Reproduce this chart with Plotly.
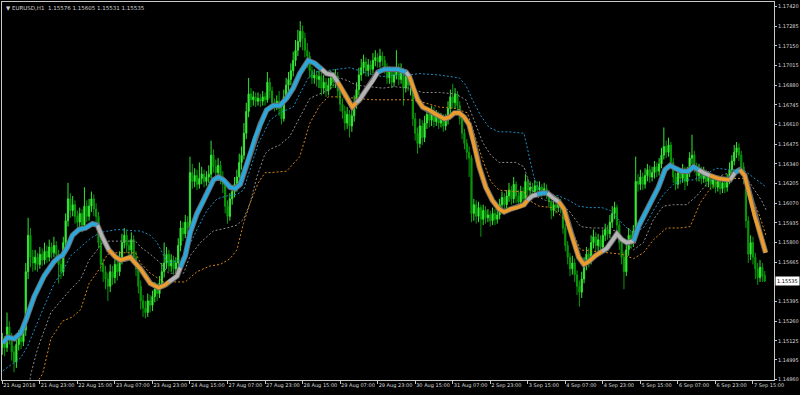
import plotly.graph_objects as go

symbol = "EURUSD"
timeframe = "H1"

open_ = [
1.1508,1.1512,1.1508,1.1522,1.1515,1.1505,1.1498,1.1510,1.1515,1.1512,
1.1520,1.1560,1.1585,1.1570,1.1566,1.1570,1.1565,1.1572,1.1568,1.1574,
1.1570,1.1577,1.1573,1.1578,1.1572,1.1565,1.1560,1.1580,1.1595,1.1610,
1.1602,1.1606,1.1598,1.1594,1.1600,1.1592,1.1605,1.1598,1.1605,1.1610,
1.1603,1.1598,1.1580,1.1565,1.1560,1.1555,1.1550,1.1560,1.1556,1.1565,
1.1560,1.1568,1.1580,1.1585,1.1578,1.1575,1.1582,1.1570,1.1562,1.1550,
1.1540,1.1535,1.1532,1.1540,1.1537,1.1543,1.1548,1.1545,1.1552,1.1560,
1.1566,1.1572,1.1564,1.1568,1.1562,1.1566,1.1578,1.1590,1.1586,1.1594,
1.1590,1.1628,1.1622,1.1626,1.1620,1.1624,1.1627,1.1622,1.1625,1.1627,
1.1640,1.1632,1.1628,1.1633,1.1625,1.1620,1.1605,1.1598,1.1610,1.1615,
1.1620,1.1625,1.1635,1.1640,1.1655,1.1670,1.1682,1.1678,1.1680,1.1677,
1.1679,1.1677,1.1680,1.1678,1.1690,1.1684,1.1676,1.1674,1.1677,1.1672,
1.1665,1.1680,1.1688,1.1692,1.1698,1.1705,1.1712,1.1718,1.1725,1.1720,
1.1712,1.1708,1.1698,1.1693,1.1695,1.1692,1.1694,1.1686,1.1690,1.1684,
1.1688,1.1693,1.1690,1.1694,1.1684,1.1675,1.1670,1.1662,1.1668,1.1660,
1.1667,1.1676,1.1685,1.1695,1.1700,1.1704,1.1698,1.1702,1.1699,1.1705,
1.1707,1.1704,1.1708,1.1705,1.1700,1.1693,1.1697,1.1690,1.1695,1.1700,
1.1692,1.1698,1.1686,1.1694,1.1688,1.1690,1.1665,1.1655,1.1648,1.1660,
1.1652,1.1662,1.1668,1.1664,1.1670,1.1663,1.1667,1.1662,1.1665,1.1660,
1.1664,1.1672,1.1680,1.1676,1.1682,1.1674,1.1665,1.1655,1.1648,1.1642,
1.1638,1.1600,1.1606,1.1598,1.1604,1.1596,1.1602,1.1597,1.1599,1.1595,
1.1600,1.1596,1.1599,1.1606,1.1611,1.1606,1.1612,1.1616,1.1610,1.1620,
1.1612,1.1608,1.1615,1.1610,1.1622,1.1616,1.1618,1.1615,1.1619,1.1616,
1.1618,1.1615,1.1617,1.1614,1.1608,1.1602,1.1606,1.1604,1.1607,1.1604,
1.1590,1.1578,1.1570,1.1562,1.1566,1.1558,1.1550,1.1546,1.1555,1.1565,
1.1572,1.1568,1.1580,1.1584,1.1578,1.1582,1.1577,1.1585,1.1589,1.1586,
1.1594,1.1600,1.1604,1.1592,1.1580,1.1570,1.1560,1.1575,1.1585,1.1580,
1.1588,1.1622,1.1620,1.1625,1.1620,1.1626,1.1630,1.1625,1.1628,1.1632,
1.1629,1.1634,1.1640,1.1646,1.1642,1.1647,1.1635,1.1625,1.1620,1.1628,
1.1624,1.1630,1.1622,1.1628,1.1638,1.1640,1.1632,1.1626,1.1630,1.1624,
1.1628,1.1622,1.1625,1.1620,1.1623,1.1618,1.1622,1.1617,1.1621,1.1618,
1.1623,1.1630,1.1636,1.1642,1.1645,1.1640,1.1632,1.1626,1.1595,1.1572,
1.1580,1.1570,1.1562,1.1556,1.1563,1.15576]

high = [
1.1518,1.1516,1.1532,1.1526,1.1518,1.1509,1.1514,1.1520,1.1519,1.1524,
1.1566,1.1597,1.1590,1.1575,1.1575,1.1573,1.1577,1.1576,1.1580,1.1578,
1.1582,1.1580,1.1584,1.1581,1.1575,1.1568,1.1584,1.1600,1.1621,1.1614,
1.1612,1.1609,1.1602,1.1604,1.1603,1.1618,1.1609,1.1610,1.1615,1.1613,
1.1607,1.1601,1.1584,1.1569,1.1564,1.1559,1.1565,1.1564,1.1570,1.1568,
1.1574,1.1586,1.1590,1.1588,1.1582,1.1587,1.1585,1.1574,1.1565,1.1554,
1.1544,1.1540,1.1545,1.1544,1.1547,1.1553,1.1552,1.1557,1.1566,1.1580,
1.1577,1.1575,1.1572,1.1571,1.1570,1.1583,1.1595,1.1594,1.1599,1.1598,
1.1639,1.1634,1.1631,1.1630,1.1635,1.1632,1.1630,1.1629,1.1633,1.1650,
1.1644,1.1637,1.1638,1.1636,1.1629,1.1623,1.1609,1.1614,1.1619,1.1625,
1.1630,1.1641,1.1646,1.1662,1.1676,1.1693,1.1686,1.1684,1.1683,1.1683,
1.1682,1.1684,1.1683,1.1697,1.1693,1.1687,1.1679,1.1681,1.1684,1.1675,
1.1685,1.1693,1.1697,1.1703,1.1711,1.1719,1.1726,1.1732,1.1729,1.1724,
1.1717,1.1711,1.1701,1.1699,1.1698,1.1698,1.1697,1.1695,1.1693,1.1693,
1.1698,1.1697,1.1699,1.1697,1.1687,1.1679,1.1674,1.1673,1.1671,1.1672,
1.1681,1.1690,1.1700,1.1706,1.1709,1.1707,1.1706,1.1705,1.1710,1.1712,
1.1710,1.1713,1.1711,1.1708,1.1703,1.1701,1.1700,1.1700,1.1712,1.1703,
1.1703,1.1700,1.1699,1.1697,1.1695,1.1692,1.1669,1.1659,1.1665,1.1664,
1.1667,1.1673,1.1671,1.1674,1.1673,1.1671,1.1670,1.1669,1.1668,1.1668,
1.1677,1.1685,1.1689,1.1686,1.1684,1.1677,1.1668,1.1658,1.1651,1.1646,
1.1640,1.1610,1.1609,1.1608,1.1606,1.1606,1.1605,1.1603,1.1602,1.1604,
1.1603,1.1603,1.1610,1.1615,1.1614,1.1616,1.1621,1.1619,1.1625,1.1622,
1.1616,1.1619,1.1618,1.1627,1.1625,1.1622,1.1621,1.1623,1.1622,1.1622,
1.1620,1.1621,1.1620,1.1616,1.1611,1.1610,1.1609,1.1611,1.1610,1.1606,
1.1593,1.1581,1.1573,1.1571,1.1569,1.1561,1.1554,1.1560,1.1570,1.1577,
1.1576,1.1585,1.1589,1.1587,1.1586,1.1585,1.1589,1.1593,1.1592,1.1599,
1.1605,1.1608,1.1606,1.1595,1.1583,1.1574,1.1580,1.1590,1.1588,1.1592,
1.1639,1.1627,1.1630,1.1628,1.1631,1.1634,1.1633,1.1632,1.1636,1.1635,
1.1638,1.1645,1.1659,1.1650,1.1652,1.1649,1.1638,1.1628,1.1632,1.1631,
1.1634,1.1632,1.1632,1.1642,1.1654,1.1643,1.1635,1.1634,1.1632,1.1632,
1.1630,1.1629,1.1627,1.1627,1.1625,1.1626,1.1624,1.1625,1.1624,1.1627,
1.1635,1.1640,1.1647,1.1649,1.1648,1.1643,1.1635,1.1628,1.1598,1.1585,
1.1584,1.1573,1.1566,1.1568,1.1566,1.15605]

low = [
1.1503,1.1502,1.1505,1.1510,1.1499,1.1491,1.1494,1.1506,1.1507,1.1509,
1.1516,1.1555,1.1563,1.1560,1.1561,1.1560,1.1562,1.1564,1.1565,1.1566,
1.1567,1.1569,1.1570,1.1566,1.1552,1.1555,1.1557,1.1576,1.1591,1.1597,
1.1598,1.1593,1.1589,1.1590,1.1587,1.1589,1.1594,1.1595,1.1601,1.1598,
1.1592,1.1576,1.1560,1.1553,1.1548,1.1540,1.1546,1.1551,1.1552,1.1554,
1.1557,1.1565,1.1576,1.1573,1.1569,1.1571,1.1566,1.1557,1.1545,1.1534,
1.1529,1.1528,1.1529,1.1532,1.1533,1.1539,1.1540,1.1542,1.1549,1.1556,
1.1562,1.1560,1.1560,1.1558,1.1558,1.1563,1.1574,1.1581,1.1583,1.1585,
1.1587,1.1617,1.1618,1.1616,1.1617,1.1620,1.1618,1.1619,1.1621,1.1624,
1.1628,1.1623,1.1624,1.1620,1.1614,1.1600,1.1593,1.1595,1.1606,1.1611,
1.1615,1.1621,1.1630,1.1637,1.1651,1.1666,1.1673,1.1674,1.1673,1.1674,
1.1673,1.1674,1.1674,1.1676,1.1679,1.1672,1.1670,1.1671,1.1667,1.1661,
1.1663,1.1677,1.1684,1.1688,1.1694,1.1701,1.1708,1.1714,1.1712,1.1707,
1.1700,1.1693,1.1689,1.1689,1.1687,1.1686,1.1681,1.1682,1.1680,1.1681,
1.1685,1.1686,1.1686,1.1679,1.1670,1.1665,1.1657,1.1658,1.1652,1.1656,
1.1663,1.1672,1.1681,1.1691,1.1696,1.1694,1.1694,1.1695,1.1696,1.1701,
1.1700,1.1700,1.1701,1.1696,1.1689,1.1689,1.1686,1.1687,1.1692,1.1688,
1.1689,1.1674,1.1683,1.1684,1.1681,1.1660,1.1650,1.1641,1.1645,1.1647,
1.1649,1.1658,1.1659,1.1660,1.1659,1.1660,1.1658,1.1659,1.1656,1.1657,
1.1661,1.1669,1.1672,1.1672,1.1670,1.1661,1.1651,1.1644,1.1637,1.1625,
1.1594,1.1595,1.1593,1.1594,1.1584,1.1592,1.1593,1.1594,1.1591,1.1592,
1.1592,1.1593,1.1596,1.1603,1.1602,1.1603,1.1608,1.1606,1.1607,1.1607,
1.1603,1.1604,1.1605,1.1607,1.1612,1.1612,1.1611,1.1612,1.1612,1.1612,
1.1611,1.1612,1.1610,1.1604,1.1596,1.1598,1.1600,1.1601,1.1600,1.1586,
1.1574,1.1565,1.1557,1.1558,1.1553,1.1544,1.1536,1.1542,1.1552,1.1561,
1.1563,1.1565,1.1576,1.1574,1.1574,1.1573,1.1574,1.1581,1.1582,1.1583,
1.1590,1.1596,1.1588,1.1575,1.1565,1.1548,1.1557,1.1571,1.1576,1.1577,
1.1584,1.1615,1.1616,1.1616,1.1617,1.1622,1.1621,1.1622,1.1624,1.1625,
1.1626,1.1631,1.1637,1.1638,1.1639,1.1631,1.1621,1.1616,1.1617,1.1620,
1.1621,1.1616,1.1619,1.1625,1.1634,1.1628,1.1622,1.1622,1.1620,1.1621,
1.1618,1.1618,1.1616,1.1617,1.1614,1.1615,1.1613,1.1614,1.1614,1.1615,
1.1620,1.1627,1.1633,1.1638,1.1636,1.1628,1.1620,1.1590,1.1566,1.1568,
1.1565,1.1555,1.1551,1.1553,1.1553,1.15531]

close = [
1.1512,1.1508,1.1522,1.1515,1.1505,1.1498,1.1510,1.1515,1.1512,1.1520,
1.1560,1.1585,1.1570,1.1566,1.1570,1.1565,1.1572,1.1568,1.1574,1.1570,
1.1577,1.1573,1.1578,1.1572,1.1565,1.1560,1.1580,1.1595,1.1610,1.1602,
1.1606,1.1598,1.1594,1.1600,1.1592,1.1605,1.1598,1.1605,1.1610,1.1603,
1.1598,1.1580,1.1565,1.1560,1.1555,1.1550,1.1560,1.1556,1.1565,1.1560,
1.1568,1.1580,1.1585,1.1578,1.1575,1.1582,1.1570,1.1562,1.1550,1.1540,
1.1535,1.1532,1.1540,1.1537,1.1543,1.1548,1.1545,1.1552,1.1560,1.1566,
1.1572,1.1564,1.1568,1.1562,1.1566,1.1578,1.1590,1.1586,1.1594,1.1590,
1.1628,1.1622,1.1626,1.1620,1.1624,1.1627,1.1622,1.1625,1.1627,1.1640,
1.1632,1.1628,1.1633,1.1625,1.1620,1.1605,1.1598,1.1610,1.1615,1.1620,
1.1625,1.1635,1.1640,1.1655,1.1670,1.1682,1.1678,1.1680,1.1677,1.1679,
1.1677,1.1680,1.1678,1.1690,1.1684,1.1676,1.1674,1.1677,1.1672,1.1665,
1.1680,1.1688,1.1692,1.1698,1.1705,1.1712,1.1718,1.1725,1.1720,1.1712,
1.1708,1.1698,1.1693,1.1695,1.1692,1.1694,1.1686,1.1690,1.1684,1.1688,
1.1693,1.1690,1.1694,1.1684,1.1675,1.1670,1.1662,1.1668,1.1660,1.1667,
1.1676,1.1685,1.1695,1.1700,1.1704,1.1698,1.1702,1.1699,1.1705,1.1707,
1.1704,1.1708,1.1705,1.1700,1.1693,1.1697,1.1690,1.1695,1.1700,1.1692,
1.1698,1.1686,1.1694,1.1688,1.1690,1.1665,1.1655,1.1648,1.1660,1.1652,
1.1662,1.1668,1.1664,1.1670,1.1663,1.1667,1.1662,1.1665,1.1660,1.1664,
1.1672,1.1680,1.1676,1.1682,1.1674,1.1665,1.1655,1.1648,1.1642,1.1638,
1.1600,1.1606,1.1598,1.1604,1.1596,1.1602,1.1597,1.1599,1.1595,1.1600,
1.1596,1.1599,1.1606,1.1611,1.1606,1.1612,1.1616,1.1610,1.1620,1.1612,
1.1608,1.1615,1.1610,1.1622,1.1616,1.1618,1.1615,1.1619,1.1616,1.1618,
1.1615,1.1617,1.1614,1.1608,1.1602,1.1606,1.1604,1.1607,1.1604,1.1590,
1.1578,1.1570,1.1562,1.1566,1.1558,1.1550,1.1546,1.1555,1.1565,1.1572,
1.1568,1.1580,1.1584,1.1578,1.1582,1.1577,1.1585,1.1589,1.1586,1.1594,
1.1600,1.1604,1.1592,1.1580,1.1570,1.1560,1.1575,1.1585,1.1580,1.1588,
1.1622,1.1620,1.1625,1.1620,1.1626,1.1630,1.1625,1.1628,1.1632,1.1629,
1.1634,1.1640,1.1646,1.1642,1.1647,1.1635,1.1625,1.1620,1.1628,1.1624,
1.1630,1.1622,1.1628,1.1638,1.1640,1.1632,1.1626,1.1630,1.1624,1.1628,
1.1622,1.1625,1.1620,1.1623,1.1618,1.1622,1.1617,1.1621,1.1618,1.1623,
1.1630,1.1636,1.1642,1.1645,1.1640,1.1632,1.1626,1.1595,1.1572,1.1580,
1.1570,1.1562,1.1556,1.1563,1.1557,1.15535]

# Thick coloured moving average (bar position, value, trend state u/d/n)
ma_idx = [
0.2,2.3,5.1,7.9,10.1,13.6,17.8,22.1,24.2,25.6,
27.8,29.9,32.7,35.5,38.4,40.5,42.6,45.4,48.3,50.4,
53.2,54.6,56.1,58.9,63.1,66.7,69.5,70.9,74.5,75.9,
78.0,80.1,83.0,85.8,87.9,90.0,92.1,94.3,97.1,99.2,
101.4,103.5,105.6,107.7,109.9,112.7,115.5,118.3,121.2,124.0,
126.8,130.4,133.2,136.1,138.2,141.0,143.1,144.5,146.7,149.2,
150.9,152.3,155.2,158.0,160.1,162.9,165.8,168.6,172.1,173.5,
175.2,177.1,179.2,182.0,184.9,188.4,190.5,192.7,194.8,196.9,
199.0,201.1,203.3,206.1,208.9,211.8,213.9,216.7,219.5,222.4,
223.8,225.9,228.0,230.1,232.3,234.4,237.2,239.4,241.5,243.6,
245.7,247.9,250.0,252.8,255.6,257.7,259.9,262.0,264.1,266.2,
269.1,271.2,274.0,276.2,277.6,279.7,282.5,284.7,286.8,289.6,
292.4,294.6,296.7,298.8,301.7,305.2,310.2,312.3,314.4,316.5,
318.6,320.7,322.9,325.4]
ma_val = [
1.1511,1.1515,1.1514,1.1518,1.1527,1.1543,1.1557,1.1567,1.1570,1.1571,
1.1577,1.1585,1.1589,1.1590,1.1593,1.1592,1.1584,1.1575,1.1570,1.1568,
1.1569,1.1570,1.1567,1.1562,1.1552,1.1549,1.1551,1.1553,1.1557,1.1563,
1.1571,1.1587,1.1600,1.1609,1.1616,1.1623,1.1625,1.1623,1.1618,1.1617,
1.1620,1.1630,1.1641,1.1652,1.1661,1.1671,1.1674,1.1674,1.1679,1.1686,
1.1696,1.1705,1.1703,1.1699,1.1696,1.1695,1.1690,1.1686,1.1680,1.1673,
1.1676,1.1678,1.1685,1.1691,1.1697,1.1699,1.1699,1.1699,1.1697,1.1694,
1.1686,1.1678,1.1673,1.1671,1.1668,1.1665,1.1666,1.1669,1.1669,1.1666,
1.1661,1.1648,1.1632,1.1618,1.1609,1.1603,1.1601,1.1603,1.1604,1.1606,
1.1609,1.1612,1.1613,1.1614,1.1614,1.1611,1.1608,1.1603,1.1591,1.1580,
1.1570,1.1565,1.1567,1.1571,1.1574,1.1576,1.1581,1.1586,1.1582,1.1580,
1.1581,1.1591,1.1600,1.1607,1.1612,1.1618,1.1630,1.1633,1.1631,1.1629,
1.1629,1.1632,1.1630,1.1628,1.1626,1.1624,1.1623,1.1628,1.1630,1.1626,
1.1612,1.1598,1.1587,1.1573]
ma_state = list(
"uuuuuuuuuu"
"uuuuunnddd"
"dddddddnnu"
"uuuuuuuuuu"
"uuuuuuuuuu"
"uuunnndddd"
"nnnnuuuund"
"dddddddddd"
"dddddddddd"
"nnuunndddd"
"ddddnnnnnn"
"uuuuuuuuuu"
"uunnddnudd"
"dddd")

# Dotted bands
blue_idx = [
0.2,5.1,7.9,10.8,13.6,17.8,22.1,25.6,29.2,33.4,
37.7,41.9,44.8,49.0,56.8,58.9,63.1,66.0,68.8,70.9,
75.9,79.4,83.0,87.2,91.5,95.7,100.0,102.8,105.6,109.1,
112.0,114.1,118.3,124.0,126.8,130.4,133.2,138.2,143.8,148.1,
152.3,158.0,162.2,167.2,173.5,177.8,186.3,194.8,197.6,200.4,
204.0,207.5,211.8,216.0,222.4,224.5,226.6,228.8,233.0,237.2,
241.5,245.7,250.0,255.6,259.2,262.7,266.3,269.1,273.3,277.6,
281.8,286.1,290.3,294.6,298.8,304.4,310.1,315.8,320.1,324.3,
325.7]
blue_val = [
1.1492,1.1498,1.1501,1.1509,1.1520,1.1536,1.1552,1.1560,1.1571,1.1577,
1.1583,1.1587,1.1588,1.1589,1.1588,1.1588,1.1585,1.1580,1.1571,1.1566,
1.1568,1.1577,1.1589,1.1602,1.1610,1.1612,1.1613,1.1616,1.1630,1.1648,
1.1657,1.1664,1.1669,1.1673,1.1682,1.1693,1.1697,1.1698,1.1699,1.1700,
1.1698,1.1695,1.1694,1.1695,1.1695,1.1696,1.1695,1.1693,1.1688,1.1678,
1.1667,1.1659,1.1656,1.1656,1.1655,1.1641,1.1625,1.1616,1.1613,1.1612,
1.1609,1.1605,1.1604,1.1604,1.1602,1.1596,1.1590,1.1587,1.1590,1.1602,
1.1613,1.1620,1.1623,1.1623,1.1626,1.1631,1.1630,1.1630,1.1625,1.1620,
1.1618]

gray_idx = [
11.8,12.2,15.0,20.7,24.9,29.2,33.4,37.0,40.5,43.3,
47.6,56.8,58.9,63.1,67.4,70.9,77.3,80.1,84.4,90.0,
95.7,100.0,102.8,105.6,108.5,112.0,114.1,118.3,122.6,126.8,
131.1,135.3,139.6,143.8,147.4,150.9,156.6,162.2,167.2,173.5,
179.2,186.3,193.2,197.6,201.1,204.7,208.2,211.8,218.9,222.4,
224.5,227.4,231.6,237.2,241.5,246.5,251.4,257.7,261.3,265.6,
269.1,273.3,277.6,281.8,286.1,291.7,296.0,300.2,304.5,310.1,
315.8,320.1,323.6,325.7]
gray_val = [
1.1486,1.1490,1.1507,1.1532,1.1540,1.1548,1.1555,1.1568,1.1575,1.1581,
1.1581,1.1581,1.1577,1.1572,1.1566,1.1559,1.1559,1.1571,1.1580,1.1588,
1.1590,1.1592,1.1596,1.1607,1.1625,1.1641,1.1644,1.1647,1.1653,1.1666,
1.1679,1.1682,1.1685,1.1693,1.1691,1.1688,1.1687,1.1686,1.1687,1.1686,
1.1683,1.1683,1.1682,1.1678,1.1664,1.1649,1.1640,1.1635,1.1635,1.1632,
1.1621,1.1612,1.1609,1.1607,1.1602,1.1591,1.1590,1.1590,1.1588,1.1580,
1.1575,1.1580,1.1596,1.1605,1.1606,1.1606,1.1612,1.1620,1.1625,1.1628,
1.1628,1.1618,1.1609,1.1602]

orange_idx = [
15.6,17.2,20.7,25.6,29.9,33.4,37.0,41.9,44.8,48.3,
56.8,58.9,63.1,68.8,78.0,83.0,88.6,92.9,97.1,100.0,
102.8,105.6,109.1,112.0,114.1,121.2,126.8,131.1,135.3,138.9,
143.8,152.3,158.0,167.2,173.5,177.8,186.3,193.2,198.3,201.1,
204.7,208.2,211.8,218.9,222.4,224.5,228.8,234.4,241.5,246.5,
252.8,259.9,264.1,269.1,273.3,277.6,283.2,288.9,293.2,297.4,
301.7,305.9,311.6,315.8,320.1,322.9,325.7]
orange_val = [
1.1486,1.1490,1.1514,1.1526,1.1529,1.1534,1.1552,1.1563,1.1572,1.1573,
1.1573,1.1566,1.1559,1.1553,1.1553,1.1560,1.1564,1.1565,1.1569,1.1575,
1.1593,1.1607,1.1621,1.1628,1.1628,1.1629,1.1639,1.1662,1.1674,1.1680,
1.1680,1.1679,1.1678,1.1678,1.1678,1.1677,1.1673,1.1672,1.1669,1.1655,
1.1637,1.1622,1.1616,1.1615,1.1615,1.1609,1.1605,1.1604,1.1593,1.1575,
1.1574,1.1573,1.1572,1.1569,1.1573,1.1582,1.1590,1.1590,1.1591,1.1607,
1.1617,1.1623,1.1624,1.1624,1.1609,1.1598,1.1584]

x_tick_idx = [0,16,32,48,64,80,96,112,128,144,160,176,192,208,224,240,256,272,288,304,320]
x_tick_text = ["21 Aug 2018","21 Aug 23:00","22 Aug 15:00","23 Aug 07:00","23 Aug 23:00",
               "24 Aug 15:00","27 Aug 07:00","27 Aug 23:00","28 Aug 15:00","29 Aug 07:00",
               "29 Aug 23:00","30 Aug 15:00","31 Aug 07:00","2 Sep 23:00","3 Sep 15:00",
               "4 Sep 07:00","4 Sep 23:00","5 Sep 15:00","6 Sep 07:00","6 Sep 23:00","7 Sep 15:00"]
y_tick_vals = [1.17420,1.17285,1.17150,1.17015,1.16880,1.16745,1.16610,1.16475,1.16340,1.16205,
               1.16070,1.15935,1.15800,1.15665,1.15395,1.15260,1.15125,1.14995,1.14860]
y_tick_text = ["%.5f" % v for v in y_tick_vals]

bar_pos = list(range(len(close)))

fig = go.Figure()
fig.add_trace(go.Candlestick(
    x=bar_pos, open=open_, high=high, low=low, close=close,
    increasing=dict(line=dict(color="#33e633", width=1), fillcolor="#4dff4d"),
    decreasing=dict(line=dict(color="#0b9a0b", width=1), fillcolor="#0b8c0b"),
    whiskerwidth=0, hoverinfo="skip", showlegend=False))

for xs, ys, col in [(blue_idx, blue_val, "#1f8fc2"),
                    (gray_idx, gray_val, "#8c8c8c"),
                    (orange_idx, orange_val, "#d4861a")]:
    fig.add_trace(go.Scatter(x=xs, y=ys, mode="lines",
                             line=dict(color=col, width=1, dash="2px,2px"),
                             hoverinfo="skip", showlegend=False))

# outline of the thick average
fig.add_trace(go.Scatter(x=ma_idx, y=ma_val, mode="lines",
                         line=dict(color="#6a6a6a", width=5.5),
                         hoverinfo="skip", showlegend=False))
state_colors = {"n": "#b4b4b4", "u": "#2aa8dc", "d": "#eb9c2c"}
for s, col in state_colors.items():
    xs, ys = [], []
    for k in range(len(ma_idx) - 1):
        if ma_state[k] != s:
            continue
        if not xs or xs[-1] != ma_idx[k]:
            if xs:
                xs.append(None)
                ys.append(None)
            xs.append(ma_idx[k])
            ys.append(ma_val[k])
        xs.append(ma_idx[k + 1])
        ys.append(ma_val[k + 1])
    fig.add_trace(go.Scatter(x=xs, y=ys, mode="lines",
                             line=dict(color=col, width=3.6),
                             hoverinfo="skip", showlegend=False))

axis_col = "#c8c8c8"
fig.update_layout(
    width=800, height=395,
    margin=dict(l=1, r=24, t=2, b=15),
    paper_bgcolor="black", plot_bgcolor="black",
    showlegend=False, hovermode=False,
    font=dict(family="DejaVu Sans", size=5, color="#dcdcdc"),
    xaxis=dict(range=[-0.13, 328.96], showgrid=False, zeroline=False,
               rangeslider=dict(visible=False),
               tickmode="array", tickvals=x_tick_idx, ticktext=x_tick_text,
               tickangle=0,
               ticks="outside", ticklen=3, tickcolor=axis_col,
               ticklabelposition="outside right",
               showline=True, linecolor=axis_col, linewidth=1, mirror=True),
    yaxis=dict(range=[1.14857, 1.17451], side="right", showgrid=False, zeroline=False,
               tickmode="array", tickvals=y_tick_vals, ticktext=y_tick_text,
               ticks="outside", ticklen=2, tickcolor=axis_col,
               showline=True, linecolor=axis_col, linewidth=1, mirror=True),
)

fig.add_annotation(x=1, xref="paper", y=close[-1], yref="y",
                   text="%.5f" % close[-1], showarrow=False,
                   xanchor="left", xshift=1, bgcolor="white", borderpad=1,
                   font=dict(color="black", size=5, family="DejaVu Sans"))

header = "\u25BC %s,%s  %.5f %.5f %.5f %.5f" % (symbol, timeframe, open_[-1], high[-1], low[-1], close[-1])
fig.add_annotation(x=0, xref="paper", y=1, yref="paper", xanchor="left", yanchor="top",
                   xshift=2, yshift=-1, text=header, showarrow=False,
                   font=dict(color="#d0d0d0", size=5.5, family="DejaVu Sans"))

fig.write_html("out.html")
